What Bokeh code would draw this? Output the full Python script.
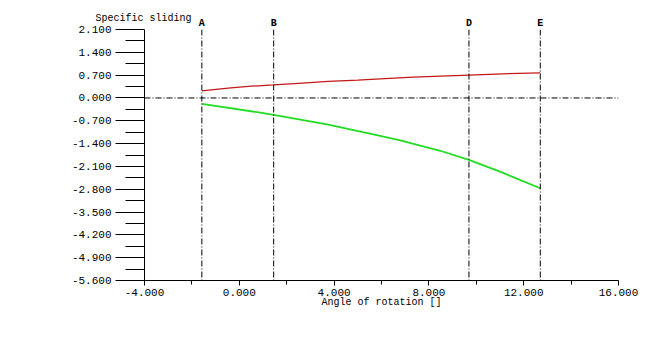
from bokeh.plotting import figure
from bokeh.models import (Range1d, FixedTicker, PrintfTickFormatter, Span,
                          LinearAxis)
from bokeh.embed import file_html
from bokeh.resources import INLINE

# ---- data ----
red_x = [-1.58, -0.47, 0.5, 1.45, 2.5, 3.75, 5.0, 5.75, 7.34, 8.5, 9.7, 11.1, 12.7]
red_y = [0.22, 0.30, 0.36, 0.40, 0.45, 0.51, 0.55, 0.58, 0.64, 0.67, 0.70, 0.74, 0.77]

green_x = [-1.58, 0.88, 1.45, 3.70, 5.80, 6.79, 8.48, 9.69, 11.0, 12.7]
green_y = [-0.18, -0.45, -0.52, -0.81, -1.14, -1.30, -1.62, -1.90, -2.26, -2.77]

marker_names = ["A", "B", "D", "E"]
marker_x = [-1.58, 1.45, 9.69, 12.7]

x_ticks = [-4, 0, 4, 8, 12, 16]
x_minor = [-2, 2, 6, 10, 14]
y_ticks = [-5.6, -4.9, -4.2, -3.5, -2.8, -2.1, -1.4, -0.7, 0.0, 0.7, 1.4, 2.1]
y_minor = [-5.25, -4.55, -3.85, -3.15, -2.45, -1.75, -1.05, -0.35, 0.35, 1.05, 1.75]

x_min, x_max = -4, 16
y_min, y_max = -5.6, 2.1

title_text = "Specific sliding"
xlabel_text = "Angle of rotation []"

MONO = "Liberation Mono"

p = figure(width=668, height=354, output_backend="svg", toolbar_location=None,
           x_range=Range1d(x_min, x_max), y_range=Range1d(y_min, y_max),
           min_border_left=144, min_border_right=50,
           min_border_top=29, min_border_bottom=74)
p.outline_line_color = None
p.grid.visible = False
p.background_fill_color = "white"
p.border_fill_color = "white"

# axes
p.xaxis.ticker = FixedTicker(ticks=x_ticks, minor_ticks=x_minor)
p.yaxis.ticker = FixedTicker(ticks=y_ticks, minor_ticks=y_minor)
p.xaxis.formatter = PrintfTickFormatter(format="%.3f")
p.yaxis.formatter = PrintfTickFormatter(format="%.3f")
for ax in (p.xaxis, p.yaxis):
    ax.axis_line_color = "black"
    ax.major_tick_line_color = "black"
    ax.minor_tick_line_color = "black"
    ax.major_tick_in = 0
    ax.minor_tick_in = 0
    ax.major_label_text_font = MONO
    ax.major_label_text_font_size = "11px"
    ax.major_label_text_color = "black"
p.yaxis.major_tick_out = 29
p.yaxis.minor_tick_out = 19
p.yaxis.major_label_standoff = 4
p.xaxis.major_tick_out = 5
p.xaxis.minor_tick_out = 4
p.xaxis.major_label_standoff = 3

# x-axis title (overlapping the tick labels like the reference)
p.xaxis.axis_label = xlabel_text
p.xaxis.axis_label_text_font = MONO
p.xaxis.axis_label_text_font_size = "10px"
p.xaxis.axis_label_text_font_style = "normal"
p.xaxis.axis_label_text_color = "black"
p.xaxis.axis_label_standoff = -2

# letters A B D E on an axis above the frame
top_axis = LinearAxis(ticker=FixedTicker(ticks=marker_x, minor_ticks=[]),
                      major_label_overrides={mx: nm for mx, nm in zip(marker_x, marker_names)})
top_axis.axis_line_color = None
top_axis.major_tick_line_color = None
top_axis.minor_tick_line_color = None
top_axis.major_tick_out = 0
top_axis.major_tick_in = 0
top_axis.major_label_standoff = 1
top_axis.major_label_text_font = MONO
top_axis.major_label_text_font_size = "10px"
top_axis.major_label_text_font_style = "bold"
top_axis.major_label_text_color = "black"
p.add_layout(top_axis, "above")

# chart title at the top left
p.title.text = title_text
p.title.align = "left"
p.title.offset = -49
p.title.standoff = -18
p.title.text_font = MONO
p.title.text_font_size = "10px"
p.title.text_font_style = "normal"
p.title.text_color = "black"

# dash-dot reference lines
p.add_layout(Span(location=0, dimension="width", line_color="black",
                  line_width=1, line_dash="6 2 1 2"))
for mx in marker_x:
    p.add_layout(Span(location=mx, dimension="height", line_color="black",
                      line_width=1, line_dash="6 2 1 2"))

# curves
p.line(red_x, red_y, line_color="#c41818", line_width=1.3)
p.line(green_x, green_y, line_color="#22dd22", line_width=1.8)

open("out.html", "w").write(file_html(p, INLINE))
